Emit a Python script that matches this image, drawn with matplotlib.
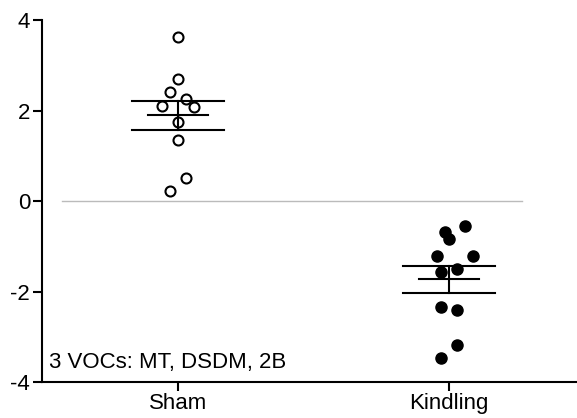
import numpy as np
import matplotlib
matplotlib.use('Agg')
import matplotlib.pyplot as plt

# data
groups = ['Sham', 'Kindling']
sham = [3.62, 2.69, 2.41, 2.26, 2.10, 2.08, 1.74, 1.35, 0.52, 0.22]
sham_x = [0.0, 0.0, -0.03, 0.03, -0.06, 0.06, 0.0, 0.0, 0.03, -0.03]
kindling = [-0.55, -0.68, -0.83, -1.21, -1.21, -1.49, -1.56, -2.33, -2.41, -3.18, -3.47]
kindling_x = [1.06, 0.985, 1.0, 0.955, 1.09, 1.03, 0.97, 0.97, 1.03, 1.03, 0.97]
note = '3 VOCs: MT, DSDM, 2B'

plt.rcParams['font.family'] = ['Liberation Sans', 'DejaVu Sans']

fig = plt.figure(figsize=(5.77, 4.18), dpi=100)
ax = fig.add_axes([0.0728, 0.085, 0.9272, 0.867])

# zero reference line
ax.plot([-0.43, 1.27], [0, 0], color='#bbbbbb', lw=1, zorder=1)

# points
ax.plot(sham_x, sham, 'o', ms=7.2, mfc='white', mec='black', mew=1.5, zorder=3)
ax.plot(kindling_x, kindling, 'o', ms=8, mfc='black', mec='black', zorder=3)

# mean +/- SEM
for i, vals in enumerate([sham, kindling]):
    v = np.array(vals)
    m = v.mean()
    se = v.std(ddof=1) / np.sqrt(len(v))
    ax.plot([i - 0.11, i + 0.11], [m, m], color='black', lw=1.5, zorder=4)
    ax.plot([i - 0.17, i + 0.17], [m + se, m + se], color='black', lw=1.5, zorder=4)
    ax.plot([i - 0.17, i + 0.17], [m - se, m - se], color='black', lw=1.5, zorder=4)
    ax.plot([i, i], [m - se, m + se], color='black', lw=1.5, zorder=4)

ax.text(-0.478, -3.55, note, fontsize=16, va='center', ha='left')

ax.set_xlim(-0.502, 1.472)
ax.set_ylim(-4, 4)
ax.set_xticks([0, 1])
ax.set_xticklabels(groups)
ax.set_yticks([-4, -2, 0, 2, 4])
ax.set_yticklabels(['-4', '-2', '0', '2', '4'])
ax.tick_params(axis='both', labelsize=16, width=1.5, length=6.5, direction='out')
ax.tick_params(axis='y', pad=2)
ax.tick_params(axis='x', pad=1)

for s in ['top', 'right']:
    ax.spines[s].set_visible(False)
for s in ['left', 'bottom']:
    ax.spines[s].set_linewidth(1.5)

fig.savefig('out.png', dpi=100)
